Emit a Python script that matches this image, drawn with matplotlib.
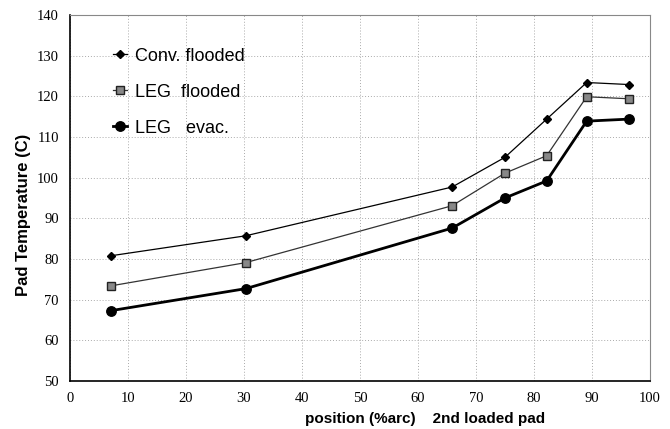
import matplotlib
matplotlib.use('Agg')
import matplotlib.pyplot as plt

# positions along the arc (%)
position = [7.1, 30.3, 65.9, 75.0, 82.2, 89.1, 96.4]

conv_flooded = [80.8, 85.7, 97.7, 105.0, 114.4, 123.4, 122.9]
leg_flooded = [73.4, 79.1, 93.1, 101.1, 105.4, 119.9, 119.4]
leg_evac = [67.3, 72.7, 87.6, 95.0, 99.2, 113.9, 114.4]

labels = ['Conv. flooded', 'LEG  flooded', 'LEG   evac.']

fig = plt.figure(figsize=(6.7, 4.29), dpi=100)
ax = fig.add_axes([0.1045, 0.112, 0.8655, 0.853])

ax.plot(position, conv_flooded, color='black', lw=0.9, marker='D',
        markersize=4.5, markerfacecolor='black', label=labels[0])
ax.plot(position, leg_flooded, color='#333333', lw=0.9, marker='s',
        markersize=5.5, markerfacecolor='#888888', markeredgecolor='#222222',
        label=labels[1])
ax.plot(position, leg_evac, color='black', lw=2.0, marker='o',
        markersize=6.8, markerfacecolor='black', label=labels[2])

ax.set_xlim(0, 100)
ax.set_ylim(50, 140)
ax.set_xticks(range(0, 101, 10))
ax.set_yticks(range(50, 141, 10))
ax.grid(True, linestyle=(0, (1, 2)), color='#aaaaaa', lw=0.7)
ax.tick_params(length=0, pad=8)
for lab in ax.get_xticklabels() + ax.get_yticklabels():
    lab.set_fontfamily('Liberation Serif')
    lab.set_fontsize(10.5)

for side in ['top', 'right']:
    ax.spines[side].set_color('#888888')
for side in ['left', 'bottom']:
    ax.spines[side].set_color('black')
    ax.spines[side].set_linewidth(1.2)

ax.set_ylabel('Pad Temperature (C)', fontfamily='Liberation Sans',
              fontweight='bold', fontsize=12)
ax.yaxis.set_label_coords(-0.068, 0.455)
ax.set_xlabel('position (%arc)    2nd loaded pad', fontfamily='Liberation Sans',
              fontweight='bold', fontsize=11)
ax.xaxis.set_label_coords(0.612, -0.085)

leg = ax.legend(loc='upper left', bbox_to_anchor=(0.046, 0.955), frameon=False,
                prop={'family': 'Liberation Sans', 'size': 13},
                labelspacing=1.05, handlelength=0.8, handletextpad=0.4)

fig.savefig('out.png', dpi=100)
